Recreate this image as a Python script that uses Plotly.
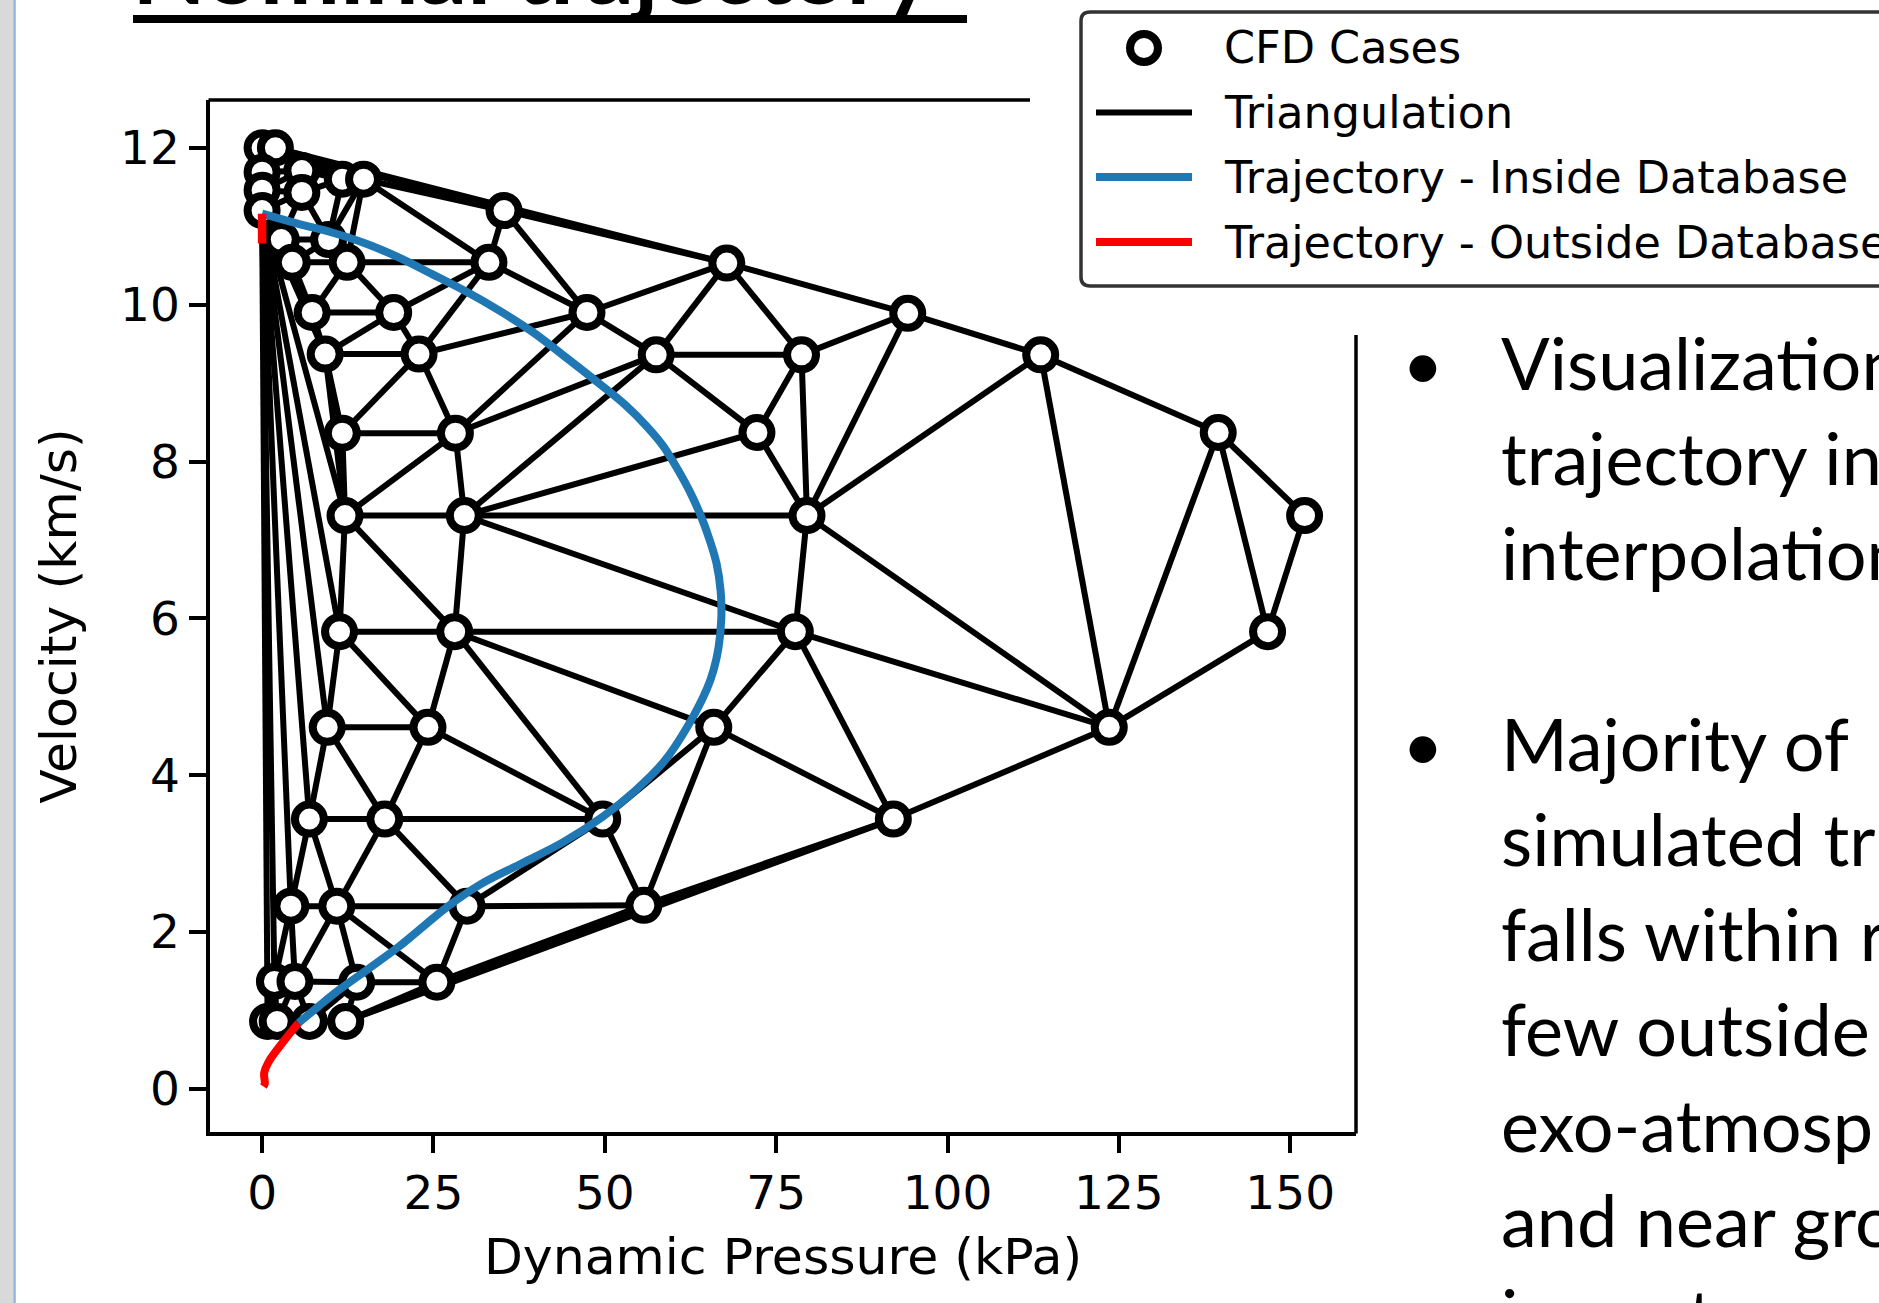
import plotly.graph_objects as go

# ---------------- data ----------------
CFD_Q = [0.0, 1.94, 0.0, 5.8, 0.0, 5.8, 11.7, 14.8, 0.0, 35.3,
         2.8, 9.7,
         4.4, 12.4, 33.1, 67.8,
         7.3, 19.2, 47.4, 94.2,
         9.2, 22.9, 57.5, 78.7, 113.6,
         11.7, 28.2, 72.2, 139.5,
         12.1, 29.5, 79.5, 152.1,
         11.3, 28.1, 77.8, 146.7,
         9.5, 24.2, 65.9, 123.6,
         6.9, 17.9, 49.7, 92.1,
         4.2, 10.9, 29.9, 55.7,
         1.8, 4.8, 13.8, 25.5,
         0.8, 2.2, 6.9, 12.2]
CFD_V = [12.0, 12.0, 11.69, 11.71, 11.46, 11.43, 11.6, 11.6, 11.2, 11.2,
         10.83, 10.83,
         10.54, 10.54, 10.54, 10.53,
         9.9, 9.9, 9.9, 9.89,
         9.37, 9.37, 9.36, 9.36, 9.36,
         8.36, 8.36, 8.37, 8.37,
         7.31, 7.31, 7.31, 7.31,
         5.83, 5.83, 5.83, 5.83,
         4.61, 4.61, 4.61, 4.61,
         3.44, 3.44, 3.44, 3.44,
         2.33, 2.33, 2.33, 2.34,
         1.37, 1.37, 1.36, 1.36,
         0.86, 0.86, 0.86, 0.86]

TRAJ_IN_Q = [0.0, 5.3, 10.2, 15.1, 20.0, 24.8, 29.7, 34.5, 39.5, 44.3, 49.1,
             53.0, 56.1, 58.5, 60.5, 62.5, 64.0, 65.3, 66.3, 66.9, 67.0, 66.6,
             65.9, 64.9, 62.2, 58.7, 54.4, 49.7, 44.0, 38.0, 32.1, 27.0, 23.5,
             19.9, 15.5, 11.2, 8.2, 5.3]
TRAJ_IN_V = [11.16, 11.03, 10.92, 10.78, 10.60, 10.39, 10.17, 9.93, 9.65, 9.33, 9.00,
             8.72, 8.45, 8.20, 7.92, 7.60, 7.31, 7.00, 6.70, 6.35, 6.00, 5.63,
             5.35, 5.10, 4.64, 4.18, 3.80, 3.47, 3.15, 2.88, 2.62, 2.32, 2.07,
             1.81, 1.53, 1.26, 1.05, 0.84]

TRAJ_OUT_TOP_Q = [0.0, 0.0]
TRAJ_OUT_TOP_V = [10.78, 11.16]
TRAJ_OUT_BOT_Q = [5.3, 2.9, 1.0, 0.3, 0.4, 0.2]
TRAJ_OUT_BOT_V = [0.84, 0.58, 0.35, 0.20, 0.07, 0.03]

X_TICKS = [0, 25, 50, 75, 100, 125, 150]
Y_TICKS = [0, 2, 4, 6, 8, 10, 12]

LEGEND_LABELS = ["CFD Cases", "Triangulation", "Trajectory - Inside Database",
                 "Trajectory - Outside Database"]

BULLET_LINES = [("•", "Visualization"), ("", "trajectory in"),
                ("", "interpolation"), ("", ""),
                ("•", "Majority of"), ("", "simulated tr"),
                ("", "falls within r"), ("", "few outside"),
                ("", "exo-atmosp"), ("", "and near gro"),
                ("", "impact")]


# ---------------- Delaunay triangulation on normalised coordinates ----------------
def delaunay_edges(q, v):
    q0, q1 = min(q), max(q)
    v0, v1 = min(v), max(v)
    xs = [(a - q0) / (q1 - q0) for a in q]
    ys = [(b - v0) / (v1 - v0) for b in v]
    n = len(xs)
    edges = set()
    for i in range(n):
        for j in range(i + 1, n):
            for k in range(j + 1, n):
                ax, ay = xs[i], ys[i]
                bx, by = xs[j], ys[j]
                cx, cy = xs[k], ys[k]
                d = 2.0 * (ax * (by - cy) + bx * (cy - ay) + cx * (ay - by))
                if abs(d) < 1e-12:
                    continue
                a2 = ax * ax + ay * ay
                b2 = bx * bx + by * by
                c2 = cx * cx + cy * cy
                ux = (a2 * (by - cy) + b2 * (cy - ay) + c2 * (ay - by)) / d
                uy = (a2 * (cx - bx) + b2 * (ax - cx) + c2 * (bx - ax)) / d
                r2 = (ax - ux) ** 2 + (ay - uy) ** 2
                ok = True
                for m in range(n):
                    if m == i or m == j or m == k:
                        continue
                    if (xs[m] - ux) ** 2 + (ys[m] - uy) ** 2 < r2 * (1 - 1e-9):
                        ok = False
                        break
                if ok:
                    edges.add((i, j))
                    edges.add((i, k))
                    edges.add((j, k))
    return sorted(edges)


EDGES = delaunay_edges(CFD_Q, CFD_V)
ex, ey = [], []
for a, b in EDGES:
    ex += [CFD_Q[a], CFD_Q[b], None]
    ey += [CFD_V[a], CFD_V[b], None]

# ---------------- figure geometry (pixels) ----------------
W, H = 1879, 1303
L, R, T, B = 210, 1356, 100, 1132


def pxx(x):
    return (x - L) / (R - L)


def pxy(y):
    return (B - y) / (B - T)


FONT = "DejaVu Sans"
FS = 47
FS_TITLE = 50.5

fig = go.Figure()
fig.add_trace(go.Scatter(x=ex, y=ey, mode="lines",
                         line=dict(color="black", width=6),
                         name=LEGEND_LABELS[1], showlegend=False, hoverinfo="skip"))
fig.add_trace(go.Scatter(x=CFD_Q, y=CFD_V, mode="markers",
                         marker=dict(size=29, color="white",
                                     line=dict(color="black", width=8)),
                         name=LEGEND_LABELS[0], showlegend=False))
fig.add_trace(go.Scatter(x=TRAJ_IN_Q, y=TRAJ_IN_V, mode="lines",
                         line=dict(color="#1f77b4", width=8, shape="spline", smoothing=1.0),
                         name=LEGEND_LABELS[2], showlegend=False))
fig.add_trace(go.Scatter(x=TRAJ_OUT_TOP_Q, y=TRAJ_OUT_TOP_V, mode="lines",
                         line=dict(color="#ff0000", width=8.5),
                         name=LEGEND_LABELS[3], showlegend=False))
fig.add_trace(go.Scatter(x=TRAJ_OUT_BOT_Q, y=TRAJ_OUT_BOT_V, mode="lines",
                         line=dict(color="#ff0000", width=8, shape="spline"),
                         name=LEGEND_LABELS[3], showlegend=False))

shapes = []
# slide left border
shapes.append(dict(type="rect", xref="paper", yref="paper", x0=pxx(-5), x1=pxx(13),
                   y0=pxy(H + 5), y1=pxy(-5), fillcolor="#d9d9d9", line=dict(width=0),
                   layer="above"))
shapes.append(dict(type="line", xref="paper", yref="paper", x0=pxx(14.5), x1=pxx(14.5),
                   y0=pxy(H + 5), y1=pxy(-5), line=dict(color="#8db3e2", width=2.5),
                   layer="above"))
# title underline
shapes.append(dict(type="line", xref="paper", yref="paper", x0=pxx(133), x1=pxx(967),
                   y0=pxy(19), y1=pxy(19), line=dict(color="black", width=8), layer="above"))
# partial top / right spines
shapes.append(dict(type="line", xref="paper", yref="paper", x0=pxx(L - 1.5), x1=pxx(1030),
                   y0=pxy(T), y1=pxy(T), line=dict(color="black", width=3.5), layer="above"))
shapes.append(dict(type="line", xref="paper", yref="paper", x0=pxx(R), x1=pxx(R),
                   y0=pxy(335), y1=pxy(B + 1.5), line=dict(color="black", width=3.5),
                   layer="above"))

# legend box (rounded)
lx0, ly0, lx1, ly1, rr = 1081, 12, 1960, 286, 9
path = (f"M {pxx(lx0 + rr)},{pxy(ly0)} L {pxx(lx1)},{pxy(ly0)} L {pxx(lx1)},{pxy(ly1)} "
        f"L {pxx(lx0 + rr)},{pxy(ly1)} Q {pxx(lx0)},{pxy(ly1)} {pxx(lx0)},{pxy(ly1 - rr)} "
        f"L {pxx(lx0)},{pxy(ly0 + rr)} Q {pxx(lx0)},{pxy(ly0)} {pxx(lx0 + rr)},{pxy(ly0)} Z")
shapes.append(dict(type="path", xref="paper", yref="paper", path=path,
                   fillcolor="white", line=dict(color="#333333", width=3.5), layer="above"))
row_y = [48, 112.5, 177, 242]
# legend marker
cxm, rm = 1144, 14
shapes.append(dict(type="circle", xref="paper", yref="paper",
                   x0=pxx(cxm - rm), x1=pxx(cxm + rm), y0=pxy(row_y[0] + rm), y1=pxy(row_y[0] - rm),
                   fillcolor="white", line=dict(color="black", width=8), layer="above"))
for yy, col, wd in [(row_y[1], "black", 6), (row_y[2], "#1f77b4", 8), (row_y[3], "#ff0000", 8)]:
    shapes.append(dict(type="line", xref="paper", yref="paper", x0=pxx(1096), x1=pxx(1192),
                       y0=pxy(yy), y1=pxy(yy), line=dict(color=col, width=wd), layer="above"))

annotations = []
for yy, lab in zip(row_y, LEGEND_LABELS):
    annotations.append(dict(xref="paper", yref="paper", x=pxx(1222), y=pxy(yy), text=lab,
                            showarrow=False, xanchor="left", yanchor="middle",
                            font=dict(family=FONT, size=44.5, color="black")))

# slide title (mostly above the visible area)
annotations.append(dict(xref="paper", yref="paper", x=pxx(130), y=pxy(26),
                        text="<b>Nominal trajectory</b>", showarrow=False,
                        xanchor="left", yanchor="bottom",
                        font=dict(family="Lato", size=96, color="black")))

# slide bullet text
first_center, step = 362, 95.2
for i, (bul, txt) in enumerate(BULLET_LINES):
    yc = first_center + i * step
    if bul:
        annotations.append(dict(xref="paper", yref="paper", x=pxx(1400), y=pxy(yc), text=bul,
                                showarrow=False, xanchor="left", yanchor="middle",
                                font=dict(family="Lato", size=72, color="black")))
    if txt:
        annotations.append(dict(xref="paper", yref="paper", x=pxx(1499), y=pxy(yc), text=txt,
                                showarrow=False, xanchor="left", yanchor="middle",
                                font=dict(family="Lato", size=72, color="black")))

fig.update_layout(
    width=W, height=H,
    margin=dict(l=L, r=W - R, t=T, b=H - B, pad=0),
    paper_bgcolor="white", plot_bgcolor="white",
    showlegend=False,
    shapes=shapes, annotations=annotations,
    font=dict(family=FONT, size=FS, color="black"),
    xaxis=dict(range=[-7.6, 159.6], tickvals=X_TICKS, ticktext=[str(t) for t in X_TICKS],
               showgrid=False, zeroline=False, showline=True, linecolor="black", linewidth=3.5,
               ticks="outside", ticklen=17, tickwidth=3.5, tickcolor="black",
               tickfont=dict(family=FONT, size=FS),
               title=dict(text="Dynamic Pressure (kPa)", font=dict(family=FONT, size=FS_TITLE),
                          standoff=20)),
    yaxis=dict(range=[-0.55, 12.61], tickvals=Y_TICKS, ticktext=[str(t) for t in Y_TICKS],
               showgrid=False, zeroline=False, showline=True, linecolor="black", linewidth=3.5,
               ticks="outside", ticklen=17, tickwidth=3.5, tickcolor="black",
               tickfont=dict(family=FONT, size=FS),
               title=dict(text="Velocity (km/s)", font=dict(family=FONT, size=FS_TITLE),
                          standoff=28)),
)

fig.write_html("out.html", config={"displayModeBar": False},
               post_script="document.body.style.margin='0px';document.body.style.overflow='hidden';")
